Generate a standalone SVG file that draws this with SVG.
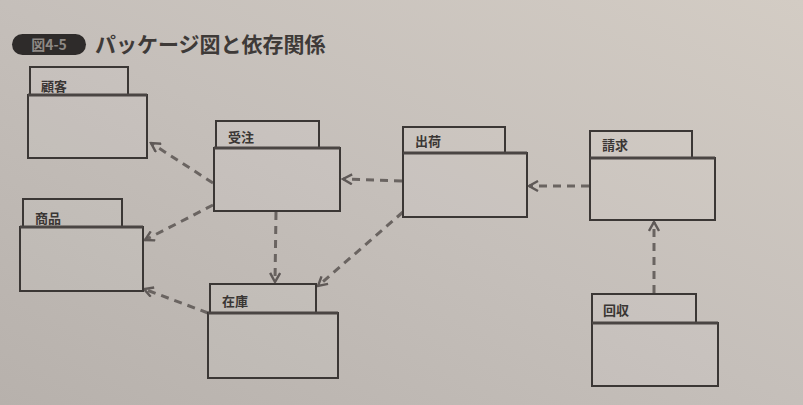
<svg xmlns="http://www.w3.org/2000/svg" width="803" height="405" viewBox="0 0 803 405">
<defs>
<linearGradient id="bg" x1="0" y1="1" x2="1" y2="0">
<stop offset="0" stop-color="#b7b1ac"/>
<stop offset="0.5" stop-color="#c5bfba"/>
<stop offset="1" stop-color="#d3ccc4"/>
</linearGradient>
<marker id="arr" markerWidth="12" markerHeight="12" refX="10" refY="6" orient="auto" markerUnits="userSpaceOnUse">
<path d="M1,1 L10,6 L1,11" fill="none" stroke="#5f5957" stroke-width="2.4"/>
</marker>
<style>
.pk{fill:#ffffff;fill-opacity:0.06;stroke:#3b3735;stroke-width:2}
.sep{stroke:#4a4543;stroke-width:3}
.lbl{font-family:"Noto Sans CJK JP","Noto Sans CJK SC",sans-serif;font-size:13px;font-weight:bold;fill:#3a3634}
.dep{fill:none;stroke:#6a6461;stroke-width:3;stroke-dasharray:8 6;marker-end:url(#arr)}
.title{font-family:"Noto Sans CJK JP",sans-serif;font-size:21px;font-weight:bold;fill:#3e3a38}
</style>
</defs>
<rect x="0" y="0" width="803" height="405" fill="url(#bg)"/>
<g id="title">
<rect x="12" y="34" width="74" height="21" rx="10.5" fill="#2e2b2a"/>
<text x="49" y="50" text-anchor="middle" font-family="Noto Sans CJK JP,sans-serif" font-size="14" font-weight="bold" fill="#8e8985">図4-5</text>
<text class="title" x="95" y="52">パッケージ図と依存関係</text>
</g>
<g id="connectors">
<line class="dep" x1="213" y1="183" x2="151" y2="143"/>
<line class="dep" x1="213" y1="205" x2="145" y2="240"/>
<line class="dep" x1="276" y1="212" x2="275" y2="282"/>
<line class="dep" x1="208" y1="313" x2="144" y2="289"/>
<line class="dep" x1="403" y1="212" x2="318" y2="286"/>
<line class="dep" x1="402" y1="181" x2="343" y2="179"/>
<line class="dep" x1="589" y1="186" x2="529" y2="186"/>
<line class="dep" x1="654" y1="293" x2="654" y2="222"/>
</g>
<g id="n-kokyaku">
<rect class="pk" x="30" y="67" width="98" height="28"/>
<rect class="pk" x="28" y="95" width="119" height="63"/>
<line class="sep" x1="28" y1="95" x2="147" y2="95"/>
<text class="lbl" x="41" y="91">顧客</text>
</g>
<g id="n-juchu">
<rect class="pk" x="216" y="121" width="103" height="27"/>
<rect class="pk" x="214" y="148" width="126" height="63"/>
<line class="sep" x1="214" y1="148" x2="340" y2="148"/>
<text class="lbl" x="228" y="142">受注</text>
</g>
<g id="n-shohin">
<rect class="pk" x="23" y="199" width="99" height="28"/>
<rect class="pk" x="20" y="227" width="123" height="64"/>
<line class="sep" x1="20" y1="227" x2="143" y2="227"/>
<text class="lbl" x="35" y="223">商品</text>
</g>
<g id="n-zaiko">
<rect class="pk" x="210" y="284" width="106" height="29"/>
<rect class="pk" x="208" y="313" width="130" height="65"/>
<line class="sep" x1="208" y1="313" x2="338" y2="313"/>
<text class="lbl" x="222" y="306">在庫</text>
</g>
<g id="n-shukka">
<rect class="pk" x="403" y="127" width="102" height="26"/>
<rect class="pk" x="403" y="153" width="124" height="64"/>
<line class="sep" x1="403" y1="153" x2="527" y2="153"/>
<text class="lbl" x="415" y="146">出荷</text>
</g>
<g id="n-seikyu">
<rect class="pk" x="590" y="131" width="102" height="27"/>
<rect class="pk" x="590" y="158" width="125" height="62"/>
<line class="sep" x1="590" y1="158" x2="715" y2="158"/>
<text class="lbl" x="602" y="150">請求</text>
</g>
<g id="n-kaishu">
<rect class="pk" x="592" y="294" width="104" height="29"/>
<rect class="pk" x="592" y="323" width="126" height="63"/>
<line class="sep" x1="592" y1="323" x2="718" y2="323"/>
<text class="lbl" x="603" y="315">回収</text>
</g>
</svg>
